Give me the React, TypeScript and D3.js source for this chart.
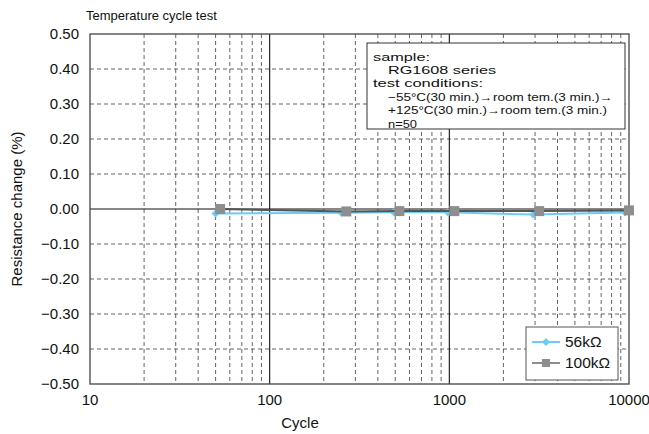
import * as d3 from "d3";

const cycles56 = [50, 250, 490, 980, 2930, 9500];
const values56 = [-0.013, -0.011, -0.009, -0.009, -0.016, -0.01];
const cycles100 = [53, 267, 527, 1066, 3162, 10000];
const values100 = [0.0, -0.007, -0.006, -0.006, -0.006, -0.004];

const yTicks = [0.5, 0.4, 0.3, 0.2, 0.1, 0, -0.1, -0.2, -0.3, -0.4, -0.5];
const xMajor = [10, 100, 1000, 10000];
const xTickLabels = ["10", "100", "1000", "10000"];

const noteLines = [
  "sample:",
  "RG1608 series",
  "test conditions:",
  "−55°C(30 min.)→room tem.(3 min.)→",
  "+125°C(30 min.)→room tem.(3 min.)",
  "n=50",
];
const noteIndent = [false, true, false, true, true, true];
const noteWidths = [57, 108, 110, 225, 219, 29];

const series = [
  { name: "56kΩ", cycles: cycles56, values: values56, color: "#6cccf2", line: "#6cccf2", marker: "diamond" },
  { name: "100kΩ", cycles: cycles100, values: values100, color: "#8e8e8e", line: "#555555", marker: "square" },
];

const font = "'Liberation Sans', Arial, sans-serif";

export default function App() {
  const width = 649;
  const height = 434;
  const left = 90;
  const right = 629;
  const top = 34;
  const bottom = 384;

  const x = d3.scaleLog().domain([10, 10000]).range([left, right]);
  const y = d3.scaleLinear().domain([-0.5, 0.5]).range([bottom, top]);

  const minor: number[] = [];
  [10, 100, 1000].forEach((d) => {
    for (let k = 2; k <= 9; k++) minor.push(d * k);
  });

  const fmt = (v: number) => {
    const s = Math.abs(v).toFixed(2);
    return v < 0 ? "−" + s : s;
  };

  const marker = (kind: string, cx: number, cy: number, color: string, size: number) =>
    kind === "diamond" ? (
      <path
        d={`M${cx},${cy - size}L${cx + size},${cy}L${cx},${cy + size}L${cx - size},${cy}Z`}
        fill={color}
      />
    ) : (
      <rect x={cx - size} y={cy - size} width={size * 2} height={size * 2} fill={color} />
    );

  return (
    <svg
      width={width}
      height={height}
      style={{ position: "absolute", left: 0, top: 0, fontFamily: font }}
    >
      <rect width={width} height={height} fill="#fff" />

      <text x={86} y={20} fontSize={13} fill="#111">
        Temperature cycle test
      </text>

      {/* grid */}
      {yTicks
        .filter((v) => v !== 0 && Math.abs(v) !== 0.5)
        .map((v) => (
          <line
            key={"gy" + v}
            x1={left}
            x2={right}
            y1={y(v)}
            y2={y(v)}
            stroke="#222"
            strokeWidth={0.7}
            strokeDasharray="4,3"
          />
        ))}
      {minor.map((d) => (
        <line
          key={"gx" + d}
          x1={x(d)}
          x2={x(d)}
          y1={top}
          y2={bottom}
          stroke="#222"
          strokeWidth={0.7}
          strokeDasharray="4,3"
        />
      ))}
      {[100, 1000].map((d) => (
        <line key={"mx" + d} x1={x(d)} x2={x(d)} y1={top} y2={bottom} stroke="#111" strokeWidth={1.1} />
      ))}
      <line x1={left} x2={right} y1={y(0)} y2={y(0)} stroke="#111" strokeWidth={1.1} />

      {/* frame */}
      <rect x={left} y={top} width={right - left} height={bottom - top} fill="none" stroke="#444" strokeWidth={1.3} />

      {/* y labels */}
      {yTicks.map((v) => (
        <text key={"yl" + v} x={79} y={y(v) + 5} fontSize={15} textAnchor="end" fill="#111">
          {fmt(v)}
        </text>
      ))}
      {xMajor.map((d, i) => (
        <text key={"xl" + d} x={x(d)} y={405} fontSize={15} textAnchor="middle" fill="#111">
          {xTickLabels[i]}
        </text>
      ))}
      <text x={300} y={428} fontSize={15} textAnchor="middle" fill="#111">
        Cycle
      </text>
      <text
        transform={`translate(22,${(top + bottom) / 2}) rotate(-90)`}
        fontSize={15}
        textAnchor="middle"
        fill="#111"
      >
        Resistance change (%)
      </text>

      {/* series */}
      {series.map((s) => {
        const line = d3
          .line<number>()
          .x((_, i) => x(s.cycles[i]))
          .y((v) => y(v));
        return (
          <g key={s.name}>
            <path d={line(s.values) || ""} fill="none" stroke={s.line} strokeWidth={2} />
            {s.values.map((v, i) => (
              <g key={i}>{marker(s.marker, x(s.cycles[i]), y(v), s.color, s.marker === "diamond" ? 4 : 5)}</g>
            ))}
          </g>
        );
      })}

      {/* note box */}
      <rect x={367} y={43} width={258} height={86} fill="#fff" stroke="#333" strokeWidth={1} />
      {noteLines.map((t, i) => (
        <text
          key={"n" + i}
          x={noteIndent[i] ? 388 : 373}
          y={60.5 + i * 13.4}
          fontSize={11.6}
          textLength={noteWidths[i]}
          lengthAdjust="spacingAndGlyphs"
          fill="#111"
        >
          {t}
        </text>
      ))}

      {/* legend */}
      <rect x={526} y={327} width={92} height={53} fill="#fff" stroke="#555" strokeWidth={1} />
      {series.map((s, i) => {
        const ly = 342 + i * 21;
        return (
          <g key={"lg" + s.name}>
            <line x1={532} x2={560} y1={ly} y2={ly} stroke={s.color} strokeWidth={2} />
            {marker(s.marker, 546, ly, s.color, 4)}
            <text x={565} y={ly + 5} fontSize={15.5} fill="#111">
              {s.name}
            </text>
          </g>
        );
      })}
    </svg>
  );
}
